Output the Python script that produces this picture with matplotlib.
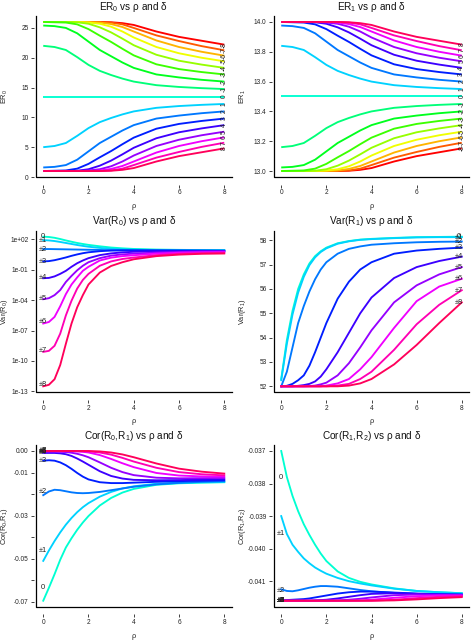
import numpy as np
import matplotlib
matplotlib.use("Agg")
import matplotlib.pyplot as plt
from matplotlib.lines import Line2D
from matplotlib.colors import hsv_to_rgb

plt.rcParams['font.family'] = ['Liberation Sans', 'DejaVu Sans']
plt.rcParams['mathtext.fontset'] = 'custom'
plt.rcParams['mathtext.rm'] = 'Liberation Sans'
plt.rcParams['mathtext.it'] = 'Liberation Sans:italic'
plt.rcParams['mathtext.bf'] = 'Liberation Sans:bold'

# ---------------- data ----------------
delta_all = list(range(-8, 9))
delta_abs = list(range(0, 9))
abs_labels = ["0", "±1", "±2", "±3", "±4", "±5", "±6", "±7", "±8"]

rho_er = [0, 0.5, 1, 1.5, 2, 2.5, 3, 3.5, 4, 5, 6, 7, 8]
rho_v = [0, 0.25, 0.5, 0.75, 1, 1.25, 1.5, 1.75, 2, 2.5, 3, 3.5, 4, 5, 6, 7, 8]

# ER0, rows for delta = -8 .. 8
er0 = [
    [26.0, 26.0, 26.0, 26.0, 26.0, 26.0, 25.95, 25.8, 25.5, 24.4, 23.5, 22.85, 22.2],
    [26.0, 26.0, 26.0, 26.0, 26.0, 26.0, 25.9, 25.6, 25.0, 23.75, 22.8, 21.95, 21.25],
    [26.0, 26.0, 26.0, 26.0, 26.0, 25.9, 25.65, 25.15, 24.4, 22.9, 21.8, 21.0, 20.35],
    [26.0, 26.0, 26.0, 26.0, 25.9, 25.7, 25.2, 24.4, 23.4, 21.8, 20.75, 20.0, 19.4],
    [26.0, 26.0, 26.0, 25.95, 25.7, 25.1, 24.25, 23.2, 22.1, 20.5, 19.5, 18.85, 18.3],
    [26.0, 25.95, 25.9, 25.6, 24.8, 23.7, 22.65, 21.5, 20.4, 18.9, 18.1, 17.6, 17.2],
    [25.4, 25.3, 25.0, 24.1, 22.7, 21.3, 20.25, 19.2, 18.3, 17.2, 16.7, 16.3, 16.0],
    [22.0, 21.8, 21.3, 20.1, 18.8, 17.8, 17.1, 16.5, 16.0, 15.4, 15.1, 14.9, 14.75],
    [13.5, 13.5, 13.5, 13.5, 13.5, 13.5, 13.5, 13.5, 13.5, 13.5, 13.5, 13.5, 13.5],
    [5.0, 5.2, 5.7, 6.9, 8.2, 9.2, 9.9, 10.5, 11.0, 11.6, 11.9, 12.1, 12.25],
    [1.6, 1.7, 2.0, 2.9, 4.3, 5.7, 6.75, 7.8, 8.7, 9.8, 10.3, 10.7, 11.0],
    [1.0, 1.05, 1.1, 1.4, 2.2, 3.3, 4.35, 5.5, 6.6, 8.1, 8.9, 9.4, 9.8],
    [1.0, 1.0, 1.0, 1.05, 1.3, 1.9, 2.75, 3.8, 4.9, 6.5, 7.5, 8.15, 8.7],
    [1.0, 1.0, 1.0, 1.0, 1.1, 1.3, 1.8, 2.6, 3.6, 5.2, 6.25, 7.0, 7.6],
    [1.0, 1.0, 1.0, 1.0, 1.0, 1.1, 1.35, 1.85, 2.6, 4.1, 5.2, 6.0, 6.65],
    [1.0, 1.0, 1.0, 1.0, 1.0, 1.0, 1.1, 1.4, 2.0, 3.25, 4.2, 5.05, 5.75],
    [1.0, 1.0, 1.0, 1.0, 1.0, 1.0, 1.05, 1.2, 1.5, 2.6, 3.5, 4.15, 4.8],
]

# ER1, rows for delta = -8 .. 8
er1 = [
    [13.0, 13.0, 13.0, 13.0, 13.0, 13.0, 13.002, 13.008, 13.02, 13.064, 13.1, 13.126, 13.152],
    [13.0, 13.0, 13.0, 13.0, 13.0, 13.0, 13.004, 13.016, 13.04, 13.09, 13.128, 13.162, 13.19],
    [13.0, 13.0, 13.0, 13.0, 13.0, 13.004, 13.014, 13.034, 13.064, 13.124, 13.168, 13.2, 13.226],
    [13.0, 13.0, 13.0, 13.0, 13.004, 13.012, 13.032, 13.064, 13.104, 13.168, 13.21, 13.24, 13.264],
    [13.0, 13.0, 13.0, 13.002, 13.012, 13.036, 13.07, 13.112, 13.156, 13.22, 13.26, 13.286, 13.308],
    [13.0, 13.002, 13.004, 13.016, 13.048, 13.092, 13.134, 13.18, 13.224, 13.284, 13.316, 13.336, 13.352],
    [13.024, 13.028, 13.04, 13.076, 13.132, 13.188, 13.23, 13.272, 13.308, 13.352, 13.372, 13.388, 13.4],
    [13.16, 13.168, 13.188, 13.236, 13.288, 13.328, 13.356, 13.38, 13.4, 13.424, 13.436, 13.444, 13.45],
    [13.5, 13.5, 13.5, 13.5, 13.5, 13.5, 13.5, 13.5, 13.5, 13.5, 13.5, 13.5, 13.5],
    [13.84, 13.832, 13.812, 13.764, 13.712, 13.672, 13.644, 13.62, 13.6, 13.576, 13.564, 13.556, 13.55],
    [13.976, 13.972, 13.96, 13.924, 13.868, 13.812, 13.77, 13.728, 13.692, 13.648, 13.628, 13.612, 13.6],
    [14.0, 13.998, 13.996, 13.984, 13.952, 13.908, 13.866, 13.82, 13.776, 13.716, 13.684, 13.664, 13.648],
    [14.0, 14.0, 14.0, 13.998, 13.988, 13.964, 13.93, 13.888, 13.844, 13.78, 13.74, 13.714, 13.692],
    [14.0, 14.0, 14.0, 14.0, 13.996, 13.988, 13.968, 13.936, 13.896, 13.832, 13.79, 13.76, 13.736],
    [14.0, 14.0, 14.0, 14.0, 14.0, 13.996, 13.986, 13.966, 13.936, 13.876, 13.832, 13.8, 13.774],
    [14.0, 14.0, 14.0, 14.0, 14.0, 14.0, 13.996, 13.984, 13.96, 13.91, 13.872, 13.838, 13.81],
    [14.0, 14.0, 14.0, 14.0, 14.0, 14.0, 13.998, 13.992, 13.98, 13.936, 13.9, 13.874, 13.848],
]

# Var(R0) as log10 values, rows for |delta| = 0 .. 8
var_r0_log10 = [
    [2.27, 2.24, 2.16, 2.04, 1.9, 1.77, 1.65, 1.55, 1.46, 1.32, 1.2, 1.12, 1.06, 1.0, 0.97, 0.95, 0.95],
    [1.93, 1.9, 1.84, 1.75, 1.65, 1.55, 1.45, 1.36, 1.28, 1.16, 1.07, 1.02, 0.99, 0.95, 0.93, 0.92, 0.92],
    [1.05, 1.05, 1.04, 1.03, 1.02, 1.01, 1.0, 0.99, 0.98, 0.96, 0.94, 0.93, 0.92, 0.91, 0.9, 0.9, 0.89],
    [-0.17, -0.14, -0.05, 0.08, 0.22, 0.38, 0.52, 0.64, 0.73, 0.84, 0.9, 0.92, 0.92, 0.91, 0.9, 0.89, 0.88],
    [-1.83, -1.8, -1.65, -1.4, -1.1, -0.7, -0.35, -0.08, 0.15, 0.45, 0.62, 0.72, 0.78, 0.82, 0.84, 0.85, 0.85],
    [-3.9, -3.8, -3.5, -3.0, -2.2, -1.6, -1.05, -0.6, -0.25, 0.15, 0.4, 0.52, 0.6, 0.7, 0.76, 0.8, 0.82],
    [-6.3, -6.15, -5.65, -4.6, -3.4, -2.45, -1.75, -1.1, -0.7, -0.08, 0.2, 0.35, 0.44, 0.6, 0.68, 0.73, 0.75],
    [-9.1, -9.0, -8.5, -7.3, -5.5, -4.05, -2.85, -2.0, -1.4, -0.6, -0.17, 0.07, 0.21, 0.45, 0.58, 0.65, 0.68],
    [-12.5, -12.35, -11.8, -10.4, -8.3, -6.3, -4.7, -3.5, -2.45, -1.27, -0.62, -0.25, 0.04, 0.35, 0.5, 0.58, 0.61],
]

# Var(R1), rows for |delta| = 0 .. 8
var_r1 = [
    [52.3, 53.9, 55.1, 56.0, 56.6, 57.05, 57.35, 57.55, 57.7, 57.88, 57.97, 58.03, 58.06, 58.1, 58.13, 58.14, 58.15],
    [52.25, 53.75, 54.95, 55.85, 56.5, 56.98, 57.3, 57.52, 57.67, 57.86, 57.96, 58.02, 58.05, 58.09, 58.12, 58.13, 58.13],
    [52.0, 52.6, 53.6, 54.6, 55.3, 55.9, 56.4, 56.8, 57.1, 57.45, 57.65, 57.75, 57.82, 57.88, 57.92, 57.94, 57.95],
    [52.0, 52.02, 52.1, 52.25, 52.45, 52.85, 53.4, 54.0, 54.6, 55.6, 56.3, 56.8, 57.1, 57.45, 57.58, 57.65, 57.7],
    [52.0, 52.0, 52.0, 52.02, 52.05, 52.1, 52.2, 52.4, 52.7, 53.4, 54.2, 55.0, 55.65, 56.45, 56.9, 57.15, 57.33],
    [52.0, 52.0, 52.0, 52.0, 52.0, 52.01, 52.03, 52.08, 52.15, 52.45, 52.95, 53.6, 54.3, 55.45, 56.15, 56.6, 56.9],
    [52.0, 52.0, 52.0, 52.0, 52.0, 52.0, 52.0, 52.0, 52.03, 52.12, 52.3, 52.7, 53.2, 54.4, 55.5, 56.1, 56.42],
    [52.0, 52.0, 52.0, 52.0, 52.0, 52.0, 52.0, 52.0, 52.0, 52.03, 52.1, 52.3, 52.6, 53.5, 54.55, 55.35, 55.95],
    [52.0, 52.0, 52.0, 52.0, 52.0, 52.0, 52.0, 52.0, 52.0, 52.0, 52.03, 52.12, 52.3, 52.9, 53.7, 54.6, 55.45],
]

# Cor(R0,R1), rows for |delta| = 0 .. 8
cor_r0r1 = [
    [-0.0695, -0.0635, -0.0572, -0.0505, -0.0448, -0.0405, -0.0366, -0.0332, -0.0302, -0.0253, -0.0218, -0.0193, -0.0176, -0.0157, -0.0150, -0.0147, -0.0145],
    [-0.0510, -0.0462, -0.0418, -0.0378, -0.0342, -0.0311, -0.0284, -0.0261, -0.0242, -0.0212, -0.0190, -0.0174, -0.0164, -0.0152, -0.0147, -0.0145, -0.0144],
    [-0.0205, -0.0188, -0.0180, -0.0182, -0.0187, -0.0192, -0.0195, -0.0196, -0.0195, -0.0190, -0.0182, -0.0174, -0.0166, -0.0155, -0.0148, -0.0143, -0.0140],
    [-0.0045, -0.0043, -0.0045, -0.0053, -0.0066, -0.0083, -0.0102, -0.0119, -0.0132, -0.0145, -0.0149, -0.0149, -0.0147, -0.0143, -0.0140, -0.0138, -0.0136],
    [-0.0009, -0.0009, -0.0009, -0.0011, -0.0015, -0.0023, -0.0035, -0.0049, -0.0064, -0.0094, -0.0116, -0.0128, -0.0134, -0.0136, -0.0135, -0.0133, -0.0131],
    [-0.0003, -0.0003, -0.0003, -0.0004, -0.0005, -0.0008, -0.0013, -0.0020, -0.0029, -0.0053, -0.0078, -0.0098, -0.0112, -0.0124, -0.0127, -0.0126, -0.0125],
    [-0.0001, -0.0001, -0.0001, -0.0001, -0.0001, -0.0001, -0.0002, -0.0004, -0.0007, -0.0019, -0.0037, -0.0057, -0.0075, -0.0102, -0.0114, -0.0118, -0.0119],
    [0.0, 0.0, 0.0, 0.0, 0.0, 0.0, -0.0001, -0.0001, -0.0002, -0.0007, -0.0017, -0.0032, -0.0049, -0.0078, -0.0098, -0.0108, -0.0113],
    [0.0, 0.0, 0.0, 0.0, 0.0, 0.0, 0.0, 0.0, 0.0, -0.0002, -0.0007, -0.0016, -0.0029, -0.0058, -0.0082, -0.0096, -0.0105],
]

# Cor(R1,R2), rows for |delta| = 0 .. 8
cor_r1r2 = [
    [-0.03700, -0.03780, -0.03838, -0.03885, -0.03925, -0.03958, -0.03988, -0.04015, -0.04038, -0.04070, -0.04090, -0.04102, -0.04110, -0.04122, -0.04130, -0.04134, -0.04137],
    [-0.03900, -0.03955, -0.03988, -0.04010, -0.04030, -0.04045, -0.04058, -0.04068, -0.04077, -0.04090, -0.04100, -0.04107, -0.04113, -0.04123, -0.04130, -0.04134, -0.04137],
    [-0.04125, -0.04130, -0.04131, -0.04128, -0.04124, -0.04120, -0.04117, -0.04115, -0.04115, -0.04117, -0.04122, -0.04127, -0.04131, -0.04136, -0.04139, -0.04140, -0.04141],
    [-0.04158, -0.04158, -0.04157, -0.04156, -0.04155, -0.04153, -0.04150, -0.04147, -0.04144, -0.04138, -0.04134, -0.04132, -0.04132, -0.04135, -0.04138, -0.04140, -0.04141],
    [-0.04160, -0.04160, -0.04160, -0.04160, -0.04160, -0.04160, -0.04159, -0.04158, -0.04157, -0.04153, -0.04148, -0.04143, -0.04139, -0.04137, -0.04139, -0.04141, -0.04142],
    [-0.04160, -0.04160, -0.04160, -0.04160, -0.04160, -0.04160, -0.04160, -0.04160, -0.04160, -0.04159, -0.04157, -0.04154, -0.04150, -0.04143, -0.04141, -0.04142, -0.04143],
    [-0.04160, -0.04160, -0.04160, -0.04160, -0.04160, -0.04160, -0.04160, -0.04160, -0.04160, -0.04160, -0.04160, -0.04159, -0.04157, -0.04151, -0.04146, -0.04144, -0.04144],
    [-0.04160, -0.04160, -0.04160, -0.04160, -0.04160, -0.04160, -0.04160, -0.04160, -0.04160, -0.04160, -0.04160, -0.04160, -0.04160, -0.04157, -0.04152, -0.04148, -0.04146],
    [-0.04160, -0.04160, -0.04160, -0.04160, -0.04160, -0.04160, -0.04160, -0.04160, -0.04160, -0.04160, -0.04160, -0.04160, -0.04160, -0.04159, -0.04156, -0.04152, -0.04149],
]

x_ticks = [0, 2, 4, 6, 8]

# ---------------- style ----------------
W, H = 476, 643
TICK_FS = 4.7
LAB_FS = 5.3
TITLE_FS = 7.2
ANN_FS = 4.8
LW = 1.35


def rainbow(i, n=17):
    return hsv_to_rgb((i / n, 1.0, 1.0))


fig = plt.figure(figsize=(W / 100, H / 100), dpi=100)


def add_ax(x0, y0, x1, y1):
    return fig.add_axes([x0 / W, 1 - y1 / H, (x1 - x0) / W, (y1 - y0) / H])


cols = [(36, 231.5), (274, 469)]
rows = [(16, 177), (230.7, 392.3), (445, 606.7)]


def limits(lo, hi):
    ext = 0.04 * (hi - lo)
    return lo - ext, hi + ext


def style(ax, title, ylabel, yticks, yticklabels):
    ax.set_xticks(x_ticks)
    ax.set_xticklabels([str(v) for v in x_ticks])
    ax.set_yticks(yticks)
    ax.set_yticklabels(yticklabels, rotation=90, va='center')
    ax.minorticks_off()
    for s in ['top', 'right', 'left', 'bottom']:
        ax.spines[s].set_visible(False)
    ax.spines['left'].set_position(('outward', 1.8))
    ax.spines['bottom'].set_position(('outward', 5.5))
    ax.add_artist(Line2D([0, 0, 1], [1, 0, 0], transform=ax.transAxes,
                         color='black', lw=0.9, clip_on=False))
    ax.tick_params(axis='both', direction='out', length=2.0, width=0.6,
                   labelsize=TICK_FS, colors='#222222')
    ax.tick_params(axis='y', pad=1.6)
    ax.tick_params(axis='x', pad=1.4)
    ax.set_title(title, fontsize=TITLE_FS, pad=4.5, color='#111111')
    ax.set_ylabel(ylabel, fontsize=LAB_FS, color='#222222')
    ax.set_xlabel('ρ', fontsize=LAB_FS, color='#222222')
    ax.yaxis.set_label_coords(-0.135, 0.5)
    ax.xaxis.set_label_coords(0.5, -0.16)
    ax.set_facecolor('white')


# ---- ER0 ----
ax = add_ax(cols[0][0], rows[0][0], cols[0][1], rows[0][1])
for i, d in enumerate(delta_all):
    ax.plot(rho_er, er0[i], color=rainbow(i), lw=LW, solid_capstyle='butt')
for i, d in enumerate(delta_all):
    ax.text(rho_er[-1], er0[i][-1], str(d), rotation=90, ha='center', va='center',
            fontsize=ANN_FS, color='#222222')
ax.set_xlim(*limits(0, 8))
ax.set_ylim(*limits(1, 26))
style(ax, 'ER$_0$ vs ρ and δ', 'ER$_0$', [0, 5, 10, 15, 20, 25],
      ['0', '5', '10', '15', '20', '25'])

# ---- ER1 ----
ax = add_ax(cols[1][0], rows[0][0], cols[1][1], rows[0][1])
for i, d in enumerate(delta_all):
    ax.plot(rho_er, er1[i], color=rainbow(i), lw=LW, solid_capstyle='butt')
for i, d in enumerate(delta_all):
    ax.text(rho_er[-1], er1[i][-1], str(d), rotation=90, ha='center', va='center',
            fontsize=ANN_FS, color='#222222')
ax.set_xlim(*limits(0, 8))
ax.set_ylim(*limits(13.0, 14.0))
style(ax, 'ER$_1$ vs ρ and δ', 'ER$_1$', [13.0, 13.2, 13.4, 13.6, 13.8, 14.0],
      ['13.0', '13.2', '13.4', '13.6', '13.8', '14.0'])

# ---- Var(R0) ----
ax = add_ax(cols[0][0], rows[1][0], cols[0][1], rows[1][1])
ax.set_yscale('log')
for i, d in enumerate(delta_abs):
    ax.plot(rho_v, np.power(10.0, var_r0_log10[i]), color=rainbow(i + 8), lw=LW)
for i, d in enumerate(delta_abs):
    ax.text(0, 10.0 ** var_r0_log10[i][1], abs_labels[i], ha='center', va='center',
            fontsize=ANN_FS + 0.6, color='#222222')
ax.set_xlim(*limits(0, 8))
lo, hi = limits(min(min(r) for r in var_r0_log10), max(max(r) for r in var_r0_log10))
ax.set_ylim(10.0 ** lo, 10.0 ** hi)
style(ax, 'Var(R$_0$) vs ρ and δ', 'Var(R$_0$)',
      [1e2, 1e-1, 1e-4, 1e-7, 1e-10, 1e-13],
      ['1e+02', '1e-01', '1e-04', '1e-07', '1e-10', '1e-13'])

# ---- Var(R1) ----
ax = add_ax(cols[1][0], rows[1][0], cols[1][1], rows[1][1])
for i, d in enumerate(delta_abs):
    ax.plot(rho_v, var_r1[i], color=rainbow(i + 8), lw=LW)
for i, d in enumerate(delta_abs):
    ax.text(rho_v[-1] - 0.12, var_r1[i][-1], abs_labels[i], ha='center', va='center',
            fontsize=ANN_FS + 0.6, color='#222222')
ax.set_xlim(*limits(0, 8))
ax.set_ylim(*limits(min(min(r) for r in var_r1), max(max(r) for r in var_r1)))
style(ax, 'Var(R$_1$) vs ρ and δ', 'Var(R$_1$)', [52, 53, 54, 55, 56, 57, 58],
      ['52', '53', '54', '55', '56', '57', '58'])

# ---- Cor(R0,R1) ----
ax = add_ax(cols[0][0], rows[2][0], cols[0][1], rows[2][1])
for i, d in enumerate(delta_abs):
    ax.plot(rho_v, cor_r0r1[i], color=rainbow(i + 8), lw=LW)
for i, d in enumerate(delta_abs):
    ax.text(0, cor_r0r1[i][1], abs_labels[i], ha='center', va='center',
            fontsize=ANN_FS + 0.6, color='#222222')
ax.set_xlim(*limits(0, 8))
ax.set_ylim(*limits(min(min(r) for r in cor_r0r1), max(max(r) for r in cor_r0r1)))
style(ax, 'Cor(R$_0$,R$_1$) vs ρ and δ', 'Cor(R$_0$,R$_1$)',
      [0.0, -0.01, -0.02, -0.03, -0.04, -0.05, -0.06, -0.07],
      ['0.00', '-0.01', '', '-0.03', '', '-0.05', '', '-0.07'])

# ---- Cor(R1,R2) ----
ax = add_ax(cols[1][0], rows[2][0], cols[1][1], rows[2][1])
for i, d in enumerate(delta_abs):
    ax.plot(rho_v, cor_r1r2[i], color=rainbow(i + 8), lw=LW)
for i, d in enumerate(delta_abs):
    ax.text(0, cor_r1r2[i][1], abs_labels[i], ha='center', va='center',
            fontsize=ANN_FS + 0.6, color='#222222')
ax.set_xlim(*limits(0, 8))
ax.set_ylim(*limits(min(min(r) for r in cor_r1r2), max(max(r) for r in cor_r1r2)))
style(ax, 'Cor(R$_1$,R$_2$) vs ρ and δ', 'Cor(R$_1$,R$_2$)',
      [-0.037, -0.038, -0.039, -0.040, -0.041],
      ['-0.037', '-0.038', '-0.039', '-0.040', '-0.041'])

fig.savefig('out.png', dpi=100, facecolor='white')
